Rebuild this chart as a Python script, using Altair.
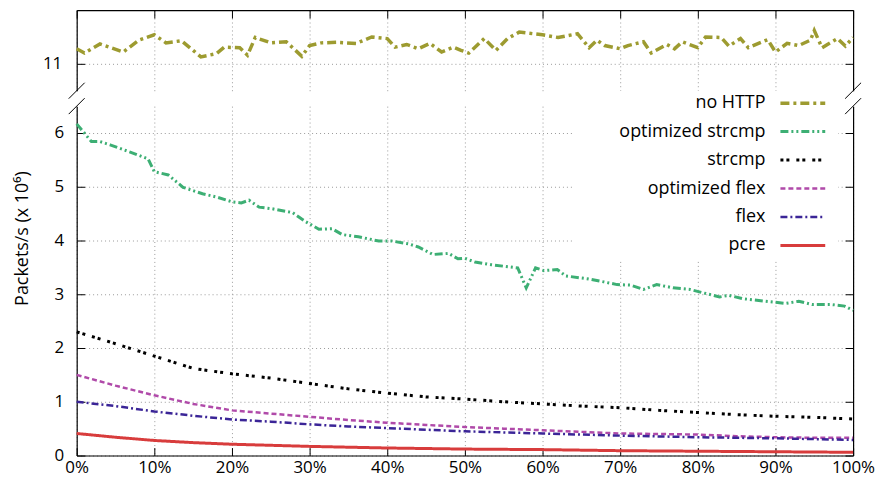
import altair as alt
import pandas as pd

# ---------------- data ----------------
names = ["no HTTP", "optimized strcmp", "strcmp", "optimized flex", "flex", "pcre"]

nohttp_x = [0, 1, 3, 6, 8, 10, 11.5, 13.5, 16, 18, 19, 21, 22, 23, 25, 27, 29, 30, 31.5, 33.5,
            36, 38, 40, 41, 42.5, 44, 45.5, 47, 48.5, 49.5, 50.5, 52.5, 54, 55.5, 57, 60, 62,
            64.5, 66, 67, 68, 70, 71, 73, 74, 76, 77, 78, 80, 81, 83, 84, 85.5, 86.5, 89, 90,
            91.5, 93, 94.5, 95, 96, 98, 99, 100]
nohttp_y = [11.28, 11.20, 11.37, 11.22, 11.44, 11.54, 11.39, 11.43, 11.13, 11.19, 11.31, 11.30,
            11.16, 11.49, 11.39, 11.41, 11.14, 11.34, 11.39, 11.40, 11.38, 11.50, 11.47, 11.31,
            11.36, 11.28, 11.38, 11.22, 11.31, 11.25, 11.20, 11.47, 11.25, 11.47, 11.59, 11.54,
            11.49, 11.56, 11.30, 11.44, 11.34, 11.28, 11.34, 11.41, 11.20, 11.36, 11.28, 11.41,
            11.30, 11.50, 11.49, 11.33, 11.47, 11.30, 11.45, 11.22, 11.38, 11.34, 11.44, 11.62,
            11.30, 11.47, 11.33, 11.49]

ostr_x = [0, 1.9, 3, 4.3, 6.8, 9.2, 10, 11.8, 13.7, 16.2, 18, 20, 21.2, 22.2, 23.5, 25.2, 27.8,
          29.5, 31.2, 32.9, 34.2, 36.3, 38.9, 40.6, 42.7, 44, 45.9, 47.9, 49.1, 50, 51.3, 53.4,
          56.8, 57.9, 59.1, 60.2, 61.9, 63, 65.7, 67.9, 69.6, 71.3, 73, 74.7, 76.8, 79, 80.6,
          82.8, 84, 85.7, 88.7, 91.3, 93, 94.7, 97.2, 98.9, 100]
ostr_y = [6.17, 5.84, 5.84, 5.78, 5.65, 5.52, 5.28, 5.22, 4.99, 4.87, 4.81, 4.72, 4.70, 4.75,
          4.62, 4.59, 4.52, 4.35, 4.21, 4.22, 4.11, 4.07, 3.99, 3.99, 3.94, 3.88, 3.74, 3.76,
          3.66, 3.67, 3.60, 3.55, 3.49, 3.12, 3.49, 3.44, 3.46, 3.34, 3.29, 3.23, 3.18, 3.17,
          3.09, 3.18, 3.12, 3.09, 3.03, 2.95, 2.98, 2.92, 2.87, 2.83, 2.87, 2.81, 2.81, 2.78,
          2.70]

pct5 = [0, 5, 10, 15, 20, 25, 30, 35, 40, 45, 50, 55, 60, 65, 70, 75, 80, 85, 90, 95, 100]
strcmp_y = [2.30, 2.08, 1.85, 1.62, 1.52, 1.44, 1.34, 1.24, 1.16, 1.09, 1.05, 1.00, 0.96, 0.92,
            0.89, 0.84, 0.80, 0.76, 0.73, 0.71, 0.68]
oflex_y = [1.50, 1.30, 1.12, 0.96, 0.84, 0.78, 0.72, 0.66, 0.61, 0.57, 0.53, 0.50, 0.47, 0.44,
           0.41, 0.40, 0.39, 0.36, 0.34, 0.33, 0.33]
flex_y = [1.00, 0.92, 0.82, 0.74, 0.67, 0.63, 0.58, 0.54, 0.51, 0.48, 0.45, 0.43, 0.41, 0.39,
          0.37, 0.355, 0.34, 0.33, 0.32, 0.305, 0.29]
pcre_y = [0.41, 0.34, 0.28, 0.24, 0.21, 0.19, 0.17, 0.155, 0.14, 0.13, 0.12, 0.115, 0.11, 0.10,
          0.09, 0.085, 0.08, 0.075, 0.07, 0.065, 0.06]

x_ticks = [0, 10, 20, 30, 40, 50, 60, 70, 80, 90, 100]
y_ticks_low = [0, 1, 2, 3, 4, 5, 6]
y_ticks_up = [11]

# ---------------- styles ----------------
colors = {"no HTTP": "#9d9b30", "optimized strcmp": "#3daf74", "strcmp": "#000000",
          "optimized flex": "#b04aa9", "flex": "#3b2597", "pcre": "#d83c3c"}
dashes = {"no HTTP": [9, 4, 3, 4], "optimized strcmp": [8, 3, 2, 3, 2, 3],
          "strcmp": [3, 3, 3, 7], "optimized flex": [5, 3], "flex": [7, 3, 2, 3],
          "pcre": [1, 0]}
widths = {"no HTTP": 3.5, "optimized strcmp": 3, "strcmp": 3, "optimized flex": 2.5,
          "flex": 2.5, "pcre": 3}

FONT = "Open Sans"
W, HU, HL = 780, 81, 351
xs = alt.Scale(domain=[0, 100], nice=False, zero=False)
ys_up = alt.Scale(domain=[10.5, 12.0], nice=False, zero=False)
ys_lo = alt.Scale(domain=[0, 6.5], nice=False, zero=True)
GRID = dict(gridColor="#9a9a9a", gridDash=[1, 3], gridWidth=1)
dummy = alt.Data(values=[{}])


def tick_axis(orient, offset, values, domain=False):
    return alt.Axis(orient=orient, offset=offset, values=values, labels=False, grid=False,
                    domain=domain, domainColor="black", domainWidth=1.2, ticks=True,
                    tickSize=8, tickColor="black", tickWidth=1, title=None)


def brk(x0, y0):
    return alt.Chart(dummy).mark_rule(color="black", strokeWidth=1).encode(
        x=alt.value(x0 - 8), y=alt.value(y0 + 8), x2=alt.value(x0 + 8), y2=alt.value(y0 - 8))


# ---------------- upper panel ----------------
up_df = pd.DataFrame({"pct": nohttp_x, "val": nohttp_y})
up_base = alt.Chart(up_df)
u1 = up_base.mark_line(color=colors["no HTTP"], strokeDash=dashes["no HTTP"],
                       strokeWidth=widths["no HTTP"]).encode(
    x=alt.X("pct:Q", scale=xs, title=None,
            axis=alt.Axis(orient="bottom", values=x_ticks, labels=False, ticks=False,
                          domain=False, grid=True, **GRID)),
    y=alt.Y("val:Q", scale=ys_up, title=None,
            axis=alt.Axis(orient="left", values=y_ticks_up, labelFontSize=17, labelPadding=15,
                          ticks=False, domain=True, domainColor="black", domainWidth=1.2,
                          grid=True, labelFlush=False, **GRID)),
)
u2 = up_base.mark_line(opacity=0).encode(
    x=alt.X("pct:Q", scale=xs, axis=tick_axis("bottom", -HU, x_ticks, domain=True)),
    y=alt.Y("val:Q", scale=ys_up, axis=tick_axis("right", -W, y_ticks_up)),
)
u3 = up_base.mark_line(opacity=0).encode(
    x=alt.X("pct:Q", scale=xs, axis=None),
    y=alt.Y("val:Q", scale=ys_up, axis=tick_axis("left", -W, y_ticks_up, domain=True)),
)
upper = alt.layer(u1, u2, u3, brk(0, HU), brk(W, HU)).resolve_axis(
    x="independent", y="independent").properties(width=W, height=HU)

# ---------------- lower panel ----------------
low_series = {
    "optimized strcmp": (ostr_x, ostr_y),
    "strcmp": (pct5, strcmp_y),
    "optimized flex": (pct5, oflex_y),
    "flex": (pct5, flex_y),
    "pcre": (pct5, pcre_y),
}
line_layers = []
first = True
for name, (xv, yv) in low_series.items():
    d = pd.DataFrame({"pct": xv, "val": yv})
    if first:
        xa = alt.Axis(orient="bottom", values=x_ticks, labelExpr="datum.value + '%'",
                      labelFontSize=17, labelPadding=4, labelFlush=False, ticks=False,
                      domain=True, domainColor="black", domainWidth=1.2, grid=True, **GRID)
        ya = alt.Axis(orient="left", values=y_ticks_low, labelFontSize=17, labelPadding=13,
                      labelFlush=False, ticks=False, domain=True, domainColor="black",
                      domainWidth=1.2, grid=True, titleFontSize=18, titleFontWeight="normal",
                      titleAngle=270, titleAlign="center", titleBaseline="alphabetic",
                      titleX=-49.5, titleY=132.5, **GRID)
        ytitle = "Packets/s (x 10⁶)"
    else:
        xa = None
        ya = None
        ytitle = None
    line_layers.append(
        alt.Chart(d).mark_line(color=colors[name], strokeDash=dashes[name],
                               strokeWidth=widths[name]).encode(
            x=alt.X("pct:Q", scale=xs, axis=xa, title=None),
            y=alt.Y("val:Q", scale=ys_lo, axis=ya, title=ytitle),
        )
    )
    first = False

tick_df = pd.DataFrame({"pct": pct5, "val": pcre_y})
l_t1 = alt.Chart(tick_df).mark_line(opacity=0).encode(
    x=alt.X("pct:Q", scale=xs, axis=tick_axis("top", -HL, x_ticks)),
    y=alt.Y("val:Q", scale=ys_lo, axis=tick_axis("right", -W, y_ticks_low)),
)
l_t2 = alt.Chart(tick_df).mark_line(opacity=0).encode(
    x=alt.X("pct:Q", scale=xs, axis=None),
    y=alt.Y("val:Q", scale=ys_lo, axis=tick_axis("left", -W, y_ticks_low, domain=True)),
)
lines_group = alt.layer(*line_layers, l_t1, l_t2).resolve_axis(x="independent", y="independent")

# legend (gnuplot style: right-aligned text, sample to the right)
leg_df = pd.DataFrame({"series": names})
leg_y = alt.Scale(type="point", domain=names, range=[-3, 140], padding=0)
box = alt.Chart(dummy).mark_rect(fill="white").encode(
    x=alt.value(498), x2=alt.value(765), y=alt.value(-15.5), y2=alt.value(153.5))
txt = alt.Chart(leg_df).mark_text(align="right", baseline="middle", font=FONT, fontSize=18,
                                  color="black").encode(
    x=alt.value(692), y=alt.Y("series:N", scale=leg_y, axis=None), text="series:N")
samples = []
for name in names:
    samples.append(
        alt.Chart(pd.DataFrame({"series": [name]})).mark_rule(
            color=colors[name], strokeDash=dashes[name], strokeWidth=widths[name]).encode(
            x=alt.value(707), x2=alt.value(752),
            y=alt.Y("series:N", scale=leg_y, axis=None))
    )
legend_group = alt.layer(box, txt, *samples)

lower = alt.layer(lines_group, legend_group, brk(0, 0), brk(W, 0)).resolve_scale(
    y="independent").properties(width=W, height=HL)

chart = alt.vconcat(upper, lower, spacing=15.5, bounds="flush").properties(
    padding={"left": 5, "top": 0, "right": 0, "bottom": 2}
).configure_view(stroke=None).configure_axis(
    labelFont=FONT, labelColor="black", titleFont=FONT, titleColor="black"
)

chart.save("out.html", embed_options={"renderer": "svg", "actions": False})
